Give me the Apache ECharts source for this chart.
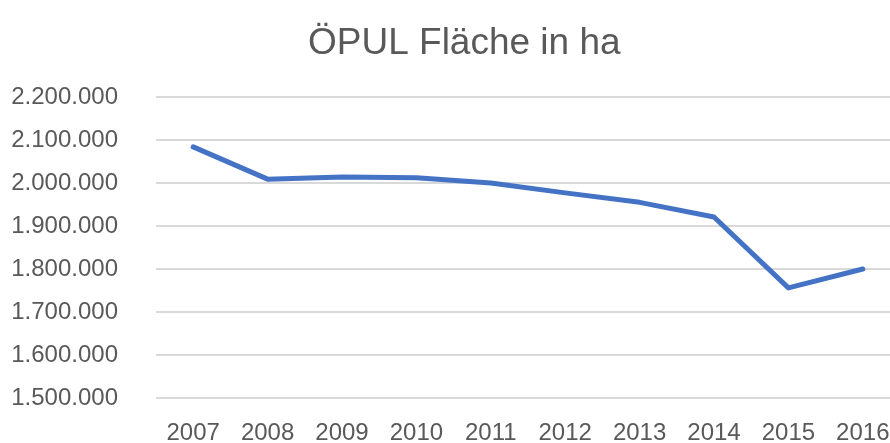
<!DOCTYPE html>
<html>
<head>
<meta charset="utf-8">
<script src="https://cdn.jsdelivr.net/npm/echarts@6/dist/echarts.min.js"></script>
<style>
  html, body { margin: 0; padding: 0; background: #fff; }
  #chart { width: 890px; height: 443px; }
</style>
</head>
<body>
<div id="chart"></div>
<script>
var years = ['2007', '2008', '2009', '2010', '2011', '2012', '2013', '2014', '2015', '2016']
var flaeche = [2084000, 2009000, 2014000, 2012000, 2000000, 1977000, 1955000, 1921000, 1756000, 1800000]

var chart = echarts.init(document.getElementById('chart'))

function fmt(v) {
  return String(v).replace(/\B(?=(\d{3})+(?!\d))/g, '.')
}

var option = {
  backgroundColor: '#fff',
  animation: false,
  title: {
    text: 'ÖPUL Fläche in ha',
    left: 303,
    top: 20,
    textStyle: {
      fontFamily: 'Liberation Sans',
      fontWeight: 'normal',
      fontSize: 37,
      color: '#595959'
    }
  },
  grid: {
    left: 156,
    width: 744,
    top: 97,
    bottom: 45,
    outerBoundsMode: 'none'
  },
  xAxis: {
    type: 'category',
    boundaryGap: true,
    data: years,
    axisLine: { show: false },
    axisTick: { show: false },
    axisLabel: {
      margin: 23,
      fontFamily: 'Liberation Sans',
      fontSize: 24,
      color: '#595959'
    }
  },
  yAxis: {
    type: 'value',
    min: 1500000,
    max: 2200000,
    interval: 100000,
    axisLine: { show: false },
    axisTick: { show: false },
    axisLabel: {
      margin: 38,
      fontFamily: 'Liberation Sans',
      fontSize: 24,
      color: '#595959',
      formatter: fmt
    },
    splitLine: {
      lineStyle: { color: '#d9d9d9', width: 2 }
    }
  },
  series: [{
    name: 'ÖPUL Fläche',
    type: 'line',
    data: flaeche,
    showSymbol: false,
    symbol: 'none',
    lineStyle: { color: '#4472c4', width: 5, cap: 'round', join: 'round' }
  }]
}

chart.setOption(option)
</script>
</body>
</html>
